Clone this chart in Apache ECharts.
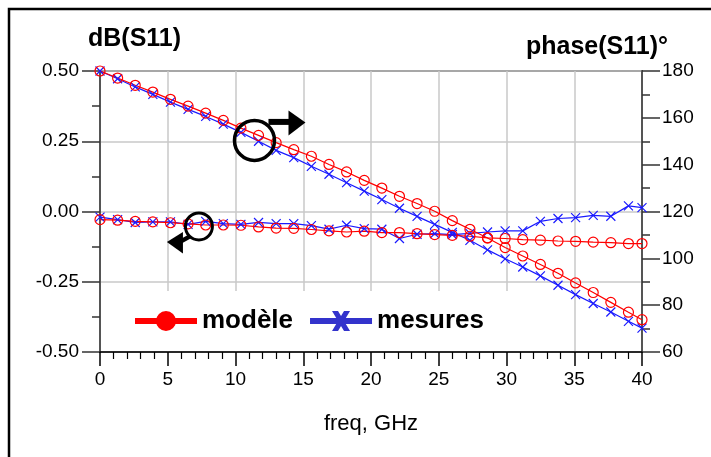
<!DOCTYPE html>
<html>
<head>
<meta charset="utf-8">
<title>S11</title>
<script src="https://cdn.jsdelivr.net/npm/echarts@6/dist/echarts.min.js"></script>
<style>
html, body { margin: 0; padding: 0; background: #fff; }
#main { width: 711px; height: 457px; }
</style>
</head>
<body>
<div id="main"></div>
<script>
var FONT = 'Liberation Sans, Arial, sans-serif';

// frequency points, GHz
var freq = [0, 1.3, 2.6, 3.9, 5.2, 6.5, 7.8, 9.1, 10.4, 11.7, 13, 14.3, 15.6, 16.9, 18.2, 19.5,
	20.8, 22.1, 23.4, 24.7, 26, 27.3, 28.6, 29.9, 31.2, 32.5, 33.8, 35.1, 36.4, 37.7, 39, 40];

// dB(S11)
var dbModele = [-0.029, -0.031, -0.035, -0.037, -0.040, -0.044, -0.048, -0.048, -0.049, -0.055,
	-0.059, -0.060, -0.064, -0.069, -0.073, -0.070, -0.075, -0.075, -0.079, -0.082,
	-0.085, -0.088, -0.094, -0.096, -0.100, -0.102, -0.105, -0.106, -0.109, -0.111, -0.114, -0.114];
var dbMesures = [-0.020, -0.029, -0.039, -0.037, -0.037, -0.046, -0.035, -0.043, -0.046, -0.039,
	-0.043, -0.043, -0.050, -0.063, -0.049, -0.061, -0.063, -0.096, -0.081, -0.079,
	-0.082, -0.078, -0.073, -0.069, -0.069, -0.035, -0.025, -0.022, -0.014, -0.017, 0.020, 0.014];

// phase(S11), degrees
var phaseModele = [180.0, 177.0, 173.9, 171.0, 167.9, 165.0, 162.0, 158.9, 155.6, 152.5,
	149.4, 146.4, 143.6, 140.1, 136.9, 133.3, 130.0, 126.5, 123.4, 120.1,
	116.1, 112.4, 108.7, 104.6, 101.0, 97.4, 93.6, 89.5, 85.4, 81.2, 77.0, 73.8];
var phaseMesures = [180.0, 176.7, 173.2, 170.0, 166.7, 163.6, 160.6, 157.3, 153.8, 150.0,
	146.1, 143.0, 139.3, 135.9, 132.3, 128.7, 125.1, 121.4, 117.9, 114.5,
	111.1, 107.7, 103.6, 99.8, 96.3, 92.5, 88.5, 84.5, 80.7, 77.1, 73.1, 70.2];

// axis ranges
var freqRange = [0, 40, 5];
var dbRange = [-0.5, 0.5, 0.25];
var phaseRange = [60, 180, 20];

var RED = '#ff0000';
var BLUE = '#1a1aff';

function pairs(xs, ys) {
	return xs.map(function (x, i) { return [x, ys[i]]; });
}

// legend icons: line + marker
var iconModele = 'path://M0,7 L62,7 L62,13 L0,13 Z M21,10 A10,10 0 1,1 41,10 A10,10 0 1,1 21,10 Z';
var iconMesures = 'path://M0,7 L62,7 L62,13 L0,13 Z M22,0 L28,0 L40,20 L34,20 Z M34,0 L40,0 L28,20 L22,20 Z';

var myChart = echarts.init(document.getElementById('main'));

function lineSeries(name, yIndex, data, color, symbol, size) {
	return {
		name: name,
		type: 'line',
		yAxisIndex: yIndex,
		data: data,
		symbol: symbol,
		symbolSize: size,
		showAllSymbol: true,
		lineStyle: { color: color, width: 1.2 },
		itemStyle: { color: 'rgba(0,0,0,0)', borderColor: color, borderWidth: 1.2 },
		emphasis: { disabled: true }
	};
}

var labelStyle = { color: '#000', fontSize: 19, fontFamily: FONT };

var option = {
	animation: false,
	backgroundColor: '#fff',
	title: [{
		text: 'dB(S11)', left: 88, top: 27, padding: 0,
		textStyle: { fontSize: 25, fontWeight: 'bold', fontFamily: FONT, color: '#000' }
	}, {
		text: 'phase(S11)°', right: 43, top: 35, padding: 0,
		textStyle: { fontSize: 25, fontWeight: 'bold', fontFamily: FONT, color: '#000' }
	}],
	legend: {
		left: 120,
		top: 291,
		padding: [17, 25, 17, 15],
		backgroundColor: '#fff',
		itemWidth: 62,
		itemHeight: 20,
		itemGap: 17,
		selectedMode: false,
		textStyle: { fontSize: 26, fontWeight: 'bold', fontFamily: FONT, color: '#000' },
		data: [
			{ name: 'modèle', icon: iconModele, itemStyle: { color: RED, borderWidth: 0 } },
			{ name: 'mesures', icon: iconMesures, itemStyle: { color: '#3333cc', borderWidth: 0 } }
		]
	},
	grid: {
		left: 100, right: 69, top: 71, bottom: 105,
		show: true, borderColor: '#444', borderWidth: 2, backgroundColor: 'transparent'
	},
	xAxis: {
		type: 'value',
		min: freqRange[0], max: freqRange[1], interval: freqRange[2],
		axisLine: { onZero: false, lineStyle: { color: '#000', width: 1.5 } },
		axisTick: { length: 14, lineStyle: { color: '#000', width: 1.5 } },
		minorTick: { show: true, splitNumber: 5, length: 7, lineStyle: { color: '#000', width: 1.2 } },
		splitLine: { show: true, lineStyle: { color: '#c8c8c8', width: 1.5 } },
		axisLabel: Object.assign({ margin: 18 }, labelStyle),
		name: 'freq, GHz',
		nameLocation: 'middle',
		nameGap: 61,
		nameTextStyle: { color: '#000', fontSize: 22, fontFamily: FONT }
	},
	yAxis: [{
		type: 'value',
		position: 'left',
		min: dbRange[0], max: dbRange[1], interval: dbRange[2],
		axisLine: { show: true, onZero: false, lineStyle: { color: '#555', width: 2 } },
		axisTick: { show: true, length: 18, lineStyle: { color: '#333', width: 1.5 } },
		minorTick: { show: true, splitNumber: 2, length: 8, lineStyle: { color: '#333', width: 1.5 } },
		splitLine: { show: true, lineStyle: { color: '#c8c8c8', width: 1.5 } },
		axisLabel: Object.assign({ margin: 21, formatter: function (v) { return v.toFixed(2); } }, labelStyle)
	}, {
		type: 'value',
		position: 'right',
		min: phaseRange[0], max: phaseRange[1], interval: phaseRange[2],
		axisLine: { show: true, onZero: false, lineStyle: { color: '#555', width: 2 } },
		axisTick: { show: true, length: 18, lineStyle: { color: '#333', width: 1.5 } },
		minorTick: { show: true, splitNumber: 2, length: 8, lineStyle: { color: '#333', width: 1.5 } },
		splitLine: { show: false },
		axisLabel: Object.assign({ margin: 20 }, labelStyle)
	}],
	series: [
		lineSeries('mesures', 0, pairs(freq, dbMesures), BLUE, 'path://M0,0 L10,10 M10,0 L0,10', 9),
		lineSeries('mesures', 1, pairs(freq, phaseMesures), BLUE, 'path://M0,0 L10,10 M10,0 L0,10', 9),
		lineSeries('modèle', 0, pairs(freq, dbModele), RED, 'circle', 10),
		lineSeries('modèle', 1, pairs(freq, phaseModele), RED, 'circle', 10)
	]
};
myChart.setOption(option);

// annotations: circles with arrows pointing to the axis each trace belongs to
function drawNotes() {
	var ref = { xAxisIndex: 0, yAxisIndex: 0 };
	var c1 = myChart.convertToPixel(ref, [11.4, 0.253]);
	var c2 = myChart.convertToPixel(ref, [7.3, -0.053]);
	var ink = { fill: '#000' };
	myChart.setOption({
		graphic: [
			{ type: 'rect', silent: true, z: 10, shape: { x: 9, y: 9, width: 760, height: 520 },
				style: { fill: 'none', stroke: '#000', lineWidth: 2.5 } },
			{ type: 'circle', silent: true, z: 10, shape: { cx: c1[0], cy: c1[1], r: 20 },
				style: { fill: 'none', stroke: '#000', lineWidth: 3.5 } },
			{ type: 'rect', silent: true, z: 10, shape: { x: c1[0] + 14, y: c1[1] - 21.5, width: 22, height: 6 }, style: ink },
			{ type: 'polygon', silent: true, z: 10,
				shape: { points: [[c1[0] + 34, c1[1] - 30], [c1[0] + 51, c1[1] - 18], [c1[0] + 34, c1[1] - 5]] }, style: ink },
			{ type: 'circle', silent: true, z: 10, shape: { cx: c2[0], cy: c2[1], r: 13.5 },
				style: { fill: 'none', stroke: '#000', lineWidth: 3 } },
			{ type: 'polyline', silent: true, z: 10,
				shape: { points: [[c2[0] - 18, c2[1] + 15], [c2[0] - 9, c2[1] + 10]] },
				style: { stroke: '#000', lineWidth: 4.5 } },
			{ type: 'polygon', silent: true, z: 10,
				shape: { points: [[c2[0] - 32, c2[1] + 15.7], [c2[0] - 16, c2[1] + 5.7], [c2[0] - 16, c2[1] + 27]] }, style: ink }
		]
	});
}
drawNotes();
</script>
</body>
</html>
